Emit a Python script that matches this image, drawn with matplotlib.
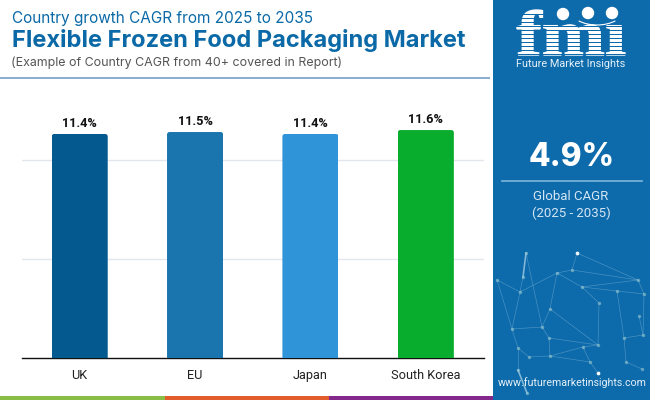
import matplotlib
matplotlib.use("Agg")
import matplotlib.pyplot as plt
from matplotlib.font_manager import FontProperties
from matplotlib.patches import Rectangle, FancyBboxPatch, Circle, Arc, PathPatch
from matplotlib.path import Path
from matplotlib.textpath import TextPath
from matplotlib.transforms import Affine2D

W, H = 650, 400

countries = ["UK", "EU", "Japan", "South Korea"]
cagr = [11.4, 11.5, 11.4, 11.6]
bar_labels = ["11.4%", "11.5%", "11.4%", "11.6%"]
bar_colors = ["#045A8F", "#1A75AE", "#3095D8", "#09AD2D"]
grid_values = [5.04, 10.08]

BLUE = "#0D6AAB"
TITLE_BLUE = "#0A69A6"
PX_PER_UNIT = 19.65

# network art in the side panel, pixel positions
net_points = [(526, 253), (523, 277), (520, 292), (497, 280), (577, 253), (572, 270), (557, 273), (582, 287),
              (638, 280), (617, 291), (644, 294), (599, 303), (550, 309), (542, 327), (512, 329), (639, 316),
              (549, 338), (598, 345), (583, 347), (624, 338), (643, 335), (518, 348), (529, 357), (550, 356),
              (590, 362), (626, 362), (518, 370), (642, 369), (598, 373), (527, 393)]
net_edges = [(0, 1), (1, 2), (0, 13), (2, 6), (6, 5), (5, 4), (4, 8), (6, 7), (7, 9), (5, 8), (7, 8), (6, 12),
             (12, 17), (7, 11), (11, 17), (12, 13), (13, 14), (14, 2), (13, 16), (16, 17), (18, 23), (23, 22),
             (22, 21), (21, 26), (14, 21), (18, 17), (18, 24), (24, 28), (9, 10), (9, 19), (19, 25), (19, 20),
             (20, 10), (15, 20), (8, 10), (25, 27), (26, 29), (14, 3), (16, 23), (23, 24), (2, 3)]
bright_edges = [(0, 1), (26, 29)]

plt.rcParams["font.family"] = ["Roboto", "DejaVu Sans"]

fig = plt.figure(figsize=(W / 100, H / 100), dpi=100, facecolor="white")
ax = fig.add_axes([22 / W, 1 - 358 / H, 461.5 / W, 358 / H])

bars = ax.bar(range(len(countries)), cagr, width=0.486, color=bar_colors, zorder=3)
ax.set_xlim(-0.5, 3.5)
ax.set_ylim(0, 358 / PX_PER_UNIT)

# small rounded corners on the bar tops
x_px = 461.5 / 4
for bar, label in zip(bars, bar_labels):
    clip = FancyBboxPatch((bar.get_x(), -1), bar.get_width(), bar.get_height() + 1,
                          boxstyle=f"round,pad=0,rounding_size={2.5 / x_px}",
                          mutation_aspect=x_px / PX_PER_UNIT, transform=ax.transData)
    bar.set_clip_path(clip)
    ax.text(bar.get_x() + bar.get_width() / 2, bar.get_height() + 0.19, label,
            ha="center", va="bottom", fontsize=9.2, fontweight="bold", color="#111111")

ax.set_yticks(grid_values)
ax.set_yticklabels([])
ax.grid(axis="y", color="#E3E6EC", linewidth=1, zorder=0)
ax.tick_params(length=0)
ax.set_xticks(range(len(countries)))
ax.set_xticklabels(countries, fontsize=9.2, color="#222222")
ax.tick_params(axis="x", pad=8)
for side in ["top", "right", "left"]:
    ax.spines[side].set_visible(False)
ax.spines["bottom"].set_linewidth(1)
ax.spines["bottom"].set_color("#111111")

# overlay for everything outside the plot, in pixels
bg = fig.add_axes([0, 0, 1, 1], zorder=5)
bg.set_xlim(0, W)
bg.set_ylim(H, 0)
bg.axis("off")
bg.patch.set_alpha(0)

bg.add_patch(Rectangle((0, 77), 490, 2, color="#8BAED0", lw=0))
bg.text(12, 19, "Country growth CAGR from 2025 to 2035", fontsize=11.05, color=TITLE_BLUE,
        family="Inter", va="center")
bg.text(12, 40, "Flexible Frozen Food Packaging Market", fontsize=17.05, color=TITLE_BLUE,
        family="Inter", fontweight="bold", va="center")
bg.text(11, 63, "(Example of Country CAGR from 40+ covered in Report)", fontsize=8.95, color="#555555",
        family="Inter", va="center")

# bottom stripe
bg.add_patch(Rectangle((0, 396), 165, 4, color="#8ABD45", lw=0))
bg.add_patch(Rectangle((165, 396), 164, 4, color="#E25C2C", lw=0))
bg.add_patch(Rectangle((329, 396), 164, 4, color="#84288C", lw=0))

# side panel
bg.add_patch(Rectangle((493, 0), 157, 400, color=BLUE, lw=0))
for a, b in net_edges:
    x0, y0 = net_points[a]
    x1, y1 = net_points[b]
    bright = (a, b) in bright_edges
    bg.plot([x0, x1], [y0, y1], color="#9CCBE3", lw=1.2 if bright else 0.5, alpha=0.8 if bright else 0.4)
bg.scatter([p[0] for p in net_points], [p[1] for p in net_points], s=6, color="#8CC3C8", alpha=0.65, lw=0)
bg.scatter([577, 598], [253, 373], s=7, color="white", lw=0)

# logo: letters fitted into their box, then cut by thin stripes
logo_font = FontProperties(family="Liberation Serif", weight="bold")
logo = TextPath((0, 0), "fm\u0131", size=50, prop=logo_font)
box = logo.get_extents()
fit = (Affine2D().translate(-box.x0, -box.y0)
       .scale(108 / box.width, -45 / box.height).translate(517, 55))
bg.add_patch(PathPatch(Path(logo.vertices, logo.codes).transformed(fit), facecolor="white",
                       edgecolor="white", lw=1.0))
for y in range(14, 56, 4):
    bg.add_patch(Rectangle((514, y), 114, 0.7, color=BLUE, lw=0))
for cx, cy in [(563, 14), (588, 13), (612, 13)]:
    bg.add_patch(Circle((cx, cy), 6.2, color="white", lw=0))
bg.add_patch(Arc((597, 8), 56, 34, theta1=35, theta2=145, color="white", lw=0.8))
bg.text(571, 64, "Future Market Insights", fontsize=7.85, color="#E6F1F8", ha="center", va="center")

bg.text(571.5, 157, "4.9%", fontsize=22.7, fontweight="heavy", color="white", family="Inter",
        ha="center", va="center")
bg.plot([502, 642], [181, 181], color="#7FB5DB", lw=1.2)
bg.text(571, 196, "Global CAGR", fontsize=9.5, color="#D3E6F4", ha="center", va="center")
bg.text(571, 213, "(2025 - 2035)", fontsize=9.5, color="#D3E6F4", ha="center", va="center")
bg.text(572, 383, "www.futuremarketinsights.com", fontsize=7.65, color="#E6F1F8", ha="center", va="center")

fig.savefig("out.png", dpi=100)
